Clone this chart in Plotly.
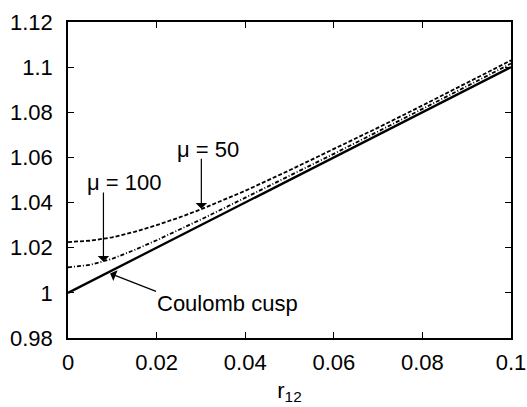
import plotly.graph_objects as go

r12 = [0, 0.005, 0.01, 0.015, 0.02, 0.025, 0.03, 0.035, 0.04, 0.05, 0.06, 0.07, 0.08, 0.09, 0.1]
mu50 = [1.0225, 1.0231, 1.0246, 1.0270, 1.0300, 1.0333, 1.0370, 1.0410, 1.0452, 1.0543, 1.0636, 1.0732, 1.0830, 1.0929, 1.1030]
mu100 = [1.0113, 1.0124, 1.0151, 1.0190, 1.0233, 1.0278, 1.0325, 1.0373, 1.0421, 1.0518, 1.0616, 1.0715, 1.0814, 1.0915, 1.1016]
cusp = [1.0, 1.005, 1.01, 1.015, 1.02, 1.025, 1.03, 1.035, 1.04, 1.05, 1.06, 1.07, 1.08, 1.09, 1.1]

x_ticks = [0, 0.02, 0.04, 0.06, 0.08, 0.1]
x_ticklabels = ["0", "0.02", "0.04", "0.06", "0.08", "0.1"]
y_ticks = [0.98, 1.0, 1.02, 1.04, 1.06, 1.08, 1.1, 1.12]
y_ticklabels = ["0.98", "1", "1.02", "1.04", "1.06", "1.08", "1.1", "1.12"]

FONT = "Liberation Sans, Arial, Helvetica, sans-serif"
FS = 22

fig = go.Figure()
fig.add_trace(go.Scatter(x=r12, y=mu50, mode="lines", name="μ = 50",
                         line=dict(color="black", width=1.8, dash="4px,2px")))
fig.add_trace(go.Scatter(x=r12, y=mu100, mode="lines", name="μ = 100",
                         line=dict(color="black", width=1.8, dash="4px,2px,1px,2px")))
fig.add_trace(go.Scatter(x=r12, y=cusp, mode="lines", name="Coulomb cusp",
                         line=dict(color="black", width=2.3)))

arrow = dict(showarrow=True, arrowhead=1, arrowsize=1.6, arrowwidth=1.2, arrowcolor="black",
             axref="x", ayref="y", xref="x", yref="y")
fig.add_annotation(x=0.008, y=1.0138, ax=0.008, ay=1.0451, text="", **arrow)
fig.add_annotation(x=0.0301, y=1.0373, ax=0.0301, ay=1.0601, text="", **arrow)
fig.add_annotation(x=0.0095, y=1.0086, ax=0.0202, ay=1.0004, text="", **arrow)

txt = dict(showarrow=False, xref="x", yref="y", font=dict(family=FONT, size=FS, color="black"))
fig.add_annotation(x=0.0126, y=1.0491, text="μ = 100", **txt)
fig.add_annotation(x=0.0317, y=1.0637, text="μ = 50", **txt)
fig.add_annotation(x=0.0359, y=0.9951, text="Coulomb cusp", **txt)

axis_common = dict(showgrid=False, zeroline=False, showline=True, linecolor="black", linewidth=1.5,
                   mirror="allticks", ticks="inside", ticklen=6, tickwidth=1.2, tickcolor="black",
                   automargin=False,
                   tickfont=dict(family=FONT, size=FS, color="black"))

fig.update_xaxes(range=[0, 0.1], tickvals=x_ticks, ticktext=x_ticklabels,
                 ticklabelstandoff=4,
                 title=dict(text="r<sub>12</sub>", font=dict(family=FONT, size=FS, color="black"), standoff=8),
                 **axis_common)
fig.update_yaxes(range=[0.98, 1.12], tickvals=y_ticks, ticktext=y_ticklabels,
                 ticklabelstandoff=9, **axis_common)

fig.update_layout(width=527, height=407, showlegend=False,
                  plot_bgcolor="white", paper_bgcolor="white",
                  margin=dict(l=68, r=16, t=22, b=69),
                  font=dict(family=FONT, size=FS, color="black"))

# remove the default 8px page margin so the figure sits at the window's top-left corner
fig.write_html("out.html",
               config={"displayModeBar": False},
               post_script="document.body.style.margin='0px';document.body.style.overflow='hidden';")
